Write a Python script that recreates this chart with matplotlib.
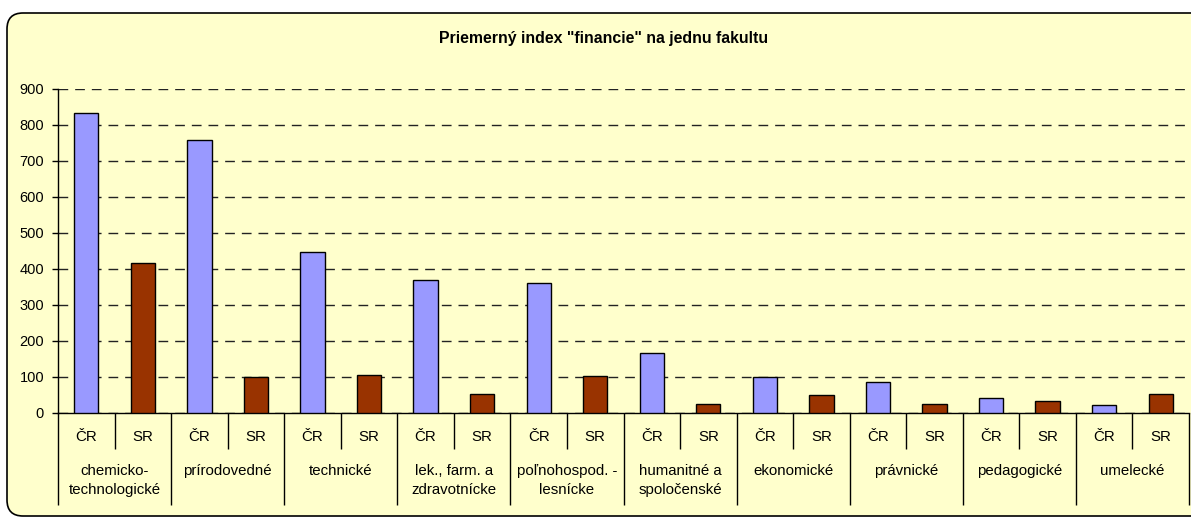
import matplotlib
matplotlib.use('Agg')
import matplotlib.pyplot as plt
from matplotlib.patches import FancyBboxPatch
from matplotlib.ticker import FixedLocator

plt.rcParams['font.family'] = ['Liberation Sans', 'DejaVu Sans']

categories = ['chemicko-\ntechnologické', 'prírodovedné', 'technické',
              'lek., farm. a\nzdravotnícke', 'poľnohospod. -\nlesnícke',
              'humanitné a\nspoločenské', 'ekonomické', 'právnické',
              'pedagogické', 'umelecké']
countries = ['ČR', 'SR']
cr = [833, 758, 448, 370, 360, 167, 100, 85, 42, 21]
sr = [417, 100, 106, 53, 103, 25, 50, 25, 32, 54]

W, H = 1191, 517
fig = plt.figure(figsize=(W / 100, H / 100), dpi=100)
fig.patch.set_facecolor('white')

# rounded chart area (right side runs off the picture)
box = FancyBboxPatch((7, 1), 1210, 503, boxstyle='round,pad=0,rounding_size=16',
                     transform=None, facecolor='#FFFFCC', edgecolor='black',
                     linewidth=1.2, zorder=-5)
fig.patches.append(box)

ax = fig.add_axes([58 / W, (H - 413) / H, (1189 - 58) / W, (413 - 89) / H])
ax.set_facecolor('none')
ax.set_zorder(2)

values = []
for a, b in zip(cr, sr):
    values += [a, b]
colors = ['#9999FF', '#993300'] * len(categories)
xs = list(range(len(values)))
ax.bar(xs, values, width=0.43, color=colors, edgecolor='black', linewidth=1, zorder=3)

ax.set_xlim(-0.5, len(values) - 0.5)
ax.set_ylim(0, 900)
ax.set_yticks(range(0, 1000, 100))
ax.yaxis.grid(True, color='#222222', linewidth=1, linestyle=(0, (7, 5)), zorder=1)
ax.set_axisbelow(True)

for s in ['top', 'right']:
    ax.spines[s].set_visible(False)
ax.spines['left'].set_linewidth(1)
ax.spines['bottom'].set_linewidth(1)

ax.tick_params(axis='y', length=4, width=1, pad=6, labelsize=10.5)

# x axis: long ticks between groups, short ones between ČR and SR
ax.xaxis.set_major_locator(FixedLocator([2 * k - 0.5 for k in range(len(categories) + 1)]))
ax.xaxis.set_minor_locator(FixedLocator([2 * k + 0.5 for k in range(len(categories))]))
ax.tick_params(axis='x', which='major', length=92 * 0.72, width=1, labelbottom=False)
ax.tick_params(axis='x', which='minor', length=36 * 0.72, width=1, labelbottom=False)

tr = ax.get_xaxis_transform()
for i in xs:
    ax.annotate(countries[i % 2], xy=(i, 0), xycoords=tr, xytext=(0, -24 * 0.72),
                textcoords='offset points', ha='center', va='center', fontsize=10.8)
for k, c in enumerate(categories):
    ax.annotate(c, xy=(2 * k + 0.5, 0), xycoords=tr, xytext=(0, -51 * 0.72),
                textcoords='offset points', ha='center', va='top', fontsize=10.8,
                linespacing=1.45)

fig.text(604 / W, (H - 38) / H, 'Priemerný index "financie" na jednu fakultu',
         ha='center', va='center', fontsize=11.4, fontweight='bold')

fig.savefig('out.png', dpi=100)
